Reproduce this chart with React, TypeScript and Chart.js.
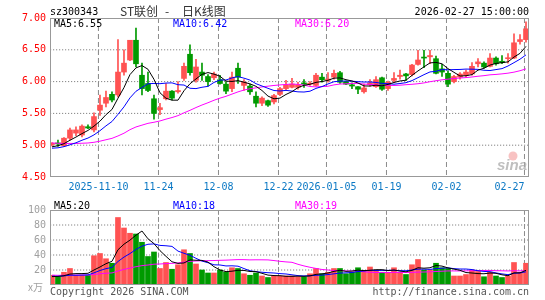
import React, { useEffect, useRef } from 'react';
import { Chart, registerables } from 'chart.js';

Chart.register(...registerables);

// ---- data ----
const opens = [5.01, 5.03, 4.99, 5.11, 5.19, 5.16, 5.29, 5.24, 5.55, 5.66,
  5.80, 5.79, 6.15, 6.34, 6.65, 6.10, 5.97, 5.73, 5.56, 5.73,
  5.85, 5.84, 6.05, 6.43, 6.02, 6.15, 6.08, 6.06, 6.03, 5.96,
  5.89, 6.21, 5.94, 5.93, 5.77, 5.66, 5.70, 5.68, 5.80, 5.89,
  5.91, 5.91, 5.98, 5.96, 5.94, 6.07, 6.02, 6.07, 6.14, 6.00,
  5.95, 5.92, 5.84, 5.95, 5.92, 6.06, 5.89, 6.02, 6.08, 6.12,
  6.11, 6.27, 6.38, 6.39, 6.36, 6.20, 6.13, 6.00, 6.07, 6.10,
  6.12, 6.28, 6.29, 6.24, 6.37, 6.32, 6.36, 6.37, 6.63, 6.66];
const highs = [5.04, 5.08, 5.12, 5.27, 5.29, 5.32, 5.32, 5.51, 5.79, 5.85,
  5.84, 6.66, 6.50, 6.65, 6.84, 6.29, 6.15, 5.79, 5.66, 5.97,
  5.86, 6.00, 6.29, 6.58, 6.35, 6.29, 6.11, 6.15, 6.10, 6.00,
  6.15, 6.29, 6.03, 5.96, 5.84, 5.76, 5.71, 5.80, 5.91, 6.02,
  6.05, 5.99, 6.03, 6.00, 6.13, 6.13, 6.14, 6.18, 6.16, 6.01,
  5.98, 5.92, 5.96, 6.03, 6.08, 6.07, 6.01, 6.14, 6.18, 6.13,
  6.27, 6.49, 6.49, 6.49, 6.40, 6.27, 6.17, 6.10, 6.14, 6.18,
  6.30, 6.36, 6.31, 6.44, 6.39, 6.41, 6.44, 6.75, 6.74, 6.94];
const lows = [4.99, 4.98, 4.98, 5.08, 5.15, 5.13, 5.26, 5.21, 5.47, 5.60,
  5.68, 5.76, 6.10, 6.33, 6.23, 5.79, 5.84, 5.41, 5.48, 5.71,
  5.71, 5.82, 6.02, 6.10, 5.99, 6.02, 5.93, 6.03, 5.96, 5.81,
  5.84, 5.97, 5.86, 5.80, 5.60, 5.62, 5.61, 5.65, 5.78, 5.86,
  5.90, 5.88, 5.91, 5.94, 5.93, 5.99, 5.99, 6.04, 5.97, 5.95,
  5.89, 5.81, 5.82, 5.93, 5.91, 5.86, 5.86, 5.99, 6.04, 6.02,
  6.09, 6.26, 6.22, 6.28, 6.12, 6.08, 5.92, 5.98, 6.04, 6.07,
  6.10, 6.23, 6.21, 6.23, 6.26, 6.28, 6.29, 6.36, 6.59, 6.62];
const closes = [5.03, 5.02, 5.11, 5.24, 5.24, 5.30, 5.27, 5.45, 5.63, 5.75,
  5.71, 6.15, 6.29, 6.65, 6.28, 5.89, 5.86, 5.50, 5.59, 5.85,
  5.74, 5.86, 6.24, 6.14, 6.23, 6.10, 6.00, 6.12, 5.97, 5.85,
  6.07, 6.07, 5.99, 5.84, 5.66, 5.74, 5.63, 5.78, 5.89, 5.95,
  5.96, 5.95, 5.96, 5.97, 6.10, 6.03, 6.04, 6.13, 5.99, 5.96,
  5.93, 5.88, 5.90, 5.98, 6.03, 5.88, 5.99, 6.05, 6.10, 6.09,
  6.26, 6.34, 6.37, 6.41, 6.13, 6.15, 5.96, 6.08, 6.12, 6.15,
  6.24, 6.31, 6.23, 6.37, 6.28, 6.30, 6.37, 6.61, 6.66, 6.83];
const volumes = [13, 11, 17, 22, 13, 13, 13, 39, 42, 35,
  29, 90, 76, 69, 68, 57, 38, 44, 22, 30,
  21, 27, 47, 42, 28, 20, 16, 16, 20, 17,
  23, 22, 15, 13, 16, 12, 10, 12, 12, 12,
  12, 11, 11, 15, 22, 15, 17, 22, 22, 15,
  17, 23, 19, 24, 19, 17, 17, 23, 17, 14,
  27, 34, 20, 20, 29, 23, 22, 12, 12, 14,
  20, 18, 11, 17, 12, 10, 12, 30, 17, 29];
// closes / volumes of the 29 sessions before the window (feed the moving averages)
const priorCloses = [5.18, 5.22, 5.20, 5.25, 5.21, 5.15, 5.12, 5.10, 5.08, 5.05,
  5.02, 5.00, 4.98, 5.00, 5.03, 5.01, 4.99, 4.97, 5.00, 4.98,
  4.96, 4.93, 4.95, 4.92, 4.90, 4.93, 4.95, 4.97, 4.99];
const priorVolumes = [15, 14, 16, 13, 12, 15, 14, 13, 16, 15,
  14, 13, 12, 15, 14, 13, 12, 14, 13, 12,
  11, 13, 12, 14, 11, 10, 12, 11, 10];
const tickIndex = [8, 18, 28, 38, 46, 56, 66, 79];
const tickLabels = ['2025-11-10', '11-24', '12-08', '12-22', '2026-01-05', '01-19', '02-02', '02-27'];
const priceTicks = [4.5, 5.0, 5.5, 6.0, 6.5, 7.0];
const volumeTicks = [0, 20, 40, 60, 80, 100];
const stockCode = 'sz300343';
const stockName = 'ST联创';
const chartKind = '日K线图';
const stamp = '2026-02-27 15:00:00';

// ---- styles ----
const RED = '#ff5252';
const GREEN = '#009a00';
const MONO = '"DejaVu Sans Mono", monospace';
const CJK = '"Noto Sans CJK SC", sans-serif';
const X_MIN = -0.33;
const X_MAX = 79.5;
const TICK_SHIFT = -0.25;
// plot-area sizes in pixels, used to turn dash lengths (px) into scale units
const PLOT_W = 479;
const PRICE_H = 159;
const VOL_H = 84;

function movingAvg(prior: number[], vals: number[], n: number): number[] {
  const all = [...prior, ...vals];
  return vals.map((_, i) => {
    const end = prior.length + i;
    let s = 0;
    for (let k = end - n + 1; k <= end; k++) s += all[k];
    return s / n;
  });
}

const candleColors = closes.map((c, i) => (c >= opens[i] ? RED : GREEN));

function xScale(showLabels: boolean, height: number): any {
  return {
    type: 'linear',
    min: X_MIN,
    max: X_MAX,
    offset: false,
    afterBuildTicks: (s: any) => {
      s.ticks = [{ value: X_MIN }, ...tickIndex.map((v) => ({ value: v + TICK_SHIFT }))];
    },
    afterFit: (s: any) => {
      s.height = height;
    },
    ticks: {
      display: showLabels,
      autoSkip: false,
      maxRotation: 0,
      minRotation: 0,
      align: 'inner',
      padding: 4,
      color: '#0b78c4',
      font: { family: MONO, size: 10 },
      callback: (_v: any, idx: number) => (idx === 0 ? '' : tickLabels[idx - 1]),
    },
    grid: { display: false, drawTicks: false },
    border: { display: false },
  };
}

function yScale(ticks: number[], color: string, fmt: (v: number) => string): any {
  return {
    position: 'left',
    min: ticks[0],
    max: ticks[ticks.length - 1],
    afterBuildTicks: (s: any) => {
      s.ticks = ticks.map((v) => ({ value: v }));
    },
    afterFit: (s: any) => {
      s.width = 50;
    },
    ticks: { color, padding: 4, font: { family: MONO, size: 10 }, callback: (v: any) => fmt(Number(v)) },
    grid: { display: false, drawTicks: false },
    border: { display: false },
  };
}

function lineSet(label: string, vals: number[], color: string): any {
  return {
    type: 'line',
    label,
    data: vals.map((v, i) => ({ x: i, y: v })),
    borderColor: color,
    backgroundColor: color,
    borderWidth: 1,
    pointRadius: 0,
    tension: 0,
    order: 0,
  };
}

// grid lines as broken line series on the tick values: dashed verticals, dotted horizontals
function gridSets(yTicks: number[], plotH: number): any[] {
  const lo = yTicks[0];
  const hi = yTicks[yTicks.length - 1];
  const uy = (hi - lo) / plotH;
  const ux = (X_MAX - X_MIN) / PLOT_W;
  const vPts: any[] = [];
  tickIndex.forEach((t) => {
    const xv = t + TICK_SHIFT;
    for (let y = hi; y > lo; y -= 8 * uy) {
      vPts.push({ x: xv, y }, { x: xv, y: Math.max(lo, y - 5 * uy) }, { x: xv, y: null });
    }
  });
  const hPts: any[] = [];
  yTicks.slice(1, -1).forEach((v) => {
    for (let x = X_MIN; x < X_MAX; x += 3 * ux) {
      hPts.push({ x, y: v }, { x: x + 1.2 * ux, y: v }, { x: x + 1.2 * ux, y: null });
    }
  });
  const base = { type: 'line', borderWidth: 1, pointRadius: 0, tension: 0, spanGaps: false, order: 10 };
  return [
    { ...base, label: 'vgrid', data: vPts, borderColor: '#8e8e8e' },
    { ...base, label: 'hgrid', data: hPts, borderColor: '#858585' },
  ];
}

function framePlugin(id: string, extra: (ctx: CanvasRenderingContext2D, a: any) => void): any {
  return {
    id,
    afterDraw(chart: any) {
      const { ctx, chartArea: a } = chart;
      ctx.save();
      ctx.strokeStyle = '#999999';
      ctx.lineWidth = 1;
      ctx.strokeRect(a.left + 0.5, a.top + 0.5, a.right - a.left - 1, a.bottom - a.top - 1);
      extra(ctx, a);
      ctx.restore();
    },
  };
}

export default function App() {
  const priceRef = useRef<HTMLCanvasElement>(null);
  const volRef = useRef<HTMLCanvasElement>(null);

  useEffect(() => {
    const ma5 = movingAvg(priorCloses, closes, 5);
    const ma10 = movingAvg(priorCloses, closes, 10);
    const ma30 = movingAvg(priorCloses, closes, 30);
    const vma5 = movingAvg(priorVolumes, volumes, 5);
    const vma10 = movingAvg(priorVolumes, volumes, 10);
    const vma30 = movingAvg(priorVolumes, volumes, 30);
    const last = closes.length - 1;

    const priceChart = new Chart(priceRef.current as HTMLCanvasElement, {
      type: 'bar',
      data: {
        datasets: [
          ...gridSets(priceTicks, PRICE_H),
          lineSet('MA5', ma5, '#000000'),
          lineSet('MA10', ma10, '#0000ff'),
          lineSet('MA30', ma30, '#ff00ff'),
          {
            type: 'bar',
            label: 'body',
            data: opens.map((o, i) => ({ x: i, y: [o, closes[i]] })),
            backgroundColor: candleColors,
            barThickness: 5,
            minBarLength: 1,
            grouped: false,
            order: 1,
          } as any,
          {
            type: 'bar',
            label: 'wick',
            data: lows.map((l, i) => ({ x: i, y: [l, highs[i]] })),
            backgroundColor: candleColors,
            barThickness: 1,
            grouped: false,
            order: 2,
          } as any,
        ],
      },
      options: {
        animation: false,
        responsive: false,
        devicePixelRatio: 1,
        layout: { padding: { top: 18, right: 16, left: 0, bottom: 0 }, autoPadding: false } as any,
        plugins: { legend: { display: false }, tooltip: { enabled: false } },
        scales: {
          x: xScale(true, 23),
          y: yScale(priceTicks, '#ff0000', (v) => v.toFixed(2)),
        },
      } as any,
      plugins: [
        framePlugin('priceFrame', (ctx, a) => {
          ctx.textBaseline = 'middle';
          ctx.font = `10px ${MONO}`;
          ctx.fillStyle = '#000000';
          ctx.textAlign = 'left';
          ctx.fillText(stockCode, 50, 12);
          ctx.textAlign = 'right';
          ctx.fillText(stamp, 529, 12);
          ctx.textAlign = 'left';
          ctx.font = `12px ${CJK}`;
          ctx.fillStyle = '#333333';
          ctx.fillText(stockName, 120, 11);
          ctx.fillText('-', 165, 11);
          ctx.fillText(chartKind, 182, 11);
          ctx.font = `10px ${MONO}`;
          ctx.fillStyle = '#000000';
          ctx.fillText(`MA5:${ma5[last].toFixed(2)}`, 54, 24);
          ctx.fillStyle = '#0000ff';
          ctx.fillText(`MA10:${ma10[last].toFixed(2)}`, 173, 24);
          ctx.fillStyle = '#ff00ff';
          ctx.fillText(`MA30:${ma30[last].toFixed(2)}`, 295, 24);
          // sina watermark
          ctx.fillStyle = 'rgba(240,120,120,0.45)';
          ctx.beginPath();
          ctx.arc(513, 156, 4.5, 0, Math.PI * 2);
          ctx.fill();
          ctx.fillStyle = 'rgba(170,170,170,0.75)';
          ctx.font = `italic bold 15px "Liberation Sans", sans-serif`;
          ctx.textBaseline = 'alphabetic';
          ctx.fillText('sina', 497, 170);
        }),
      ],
    });

    const volChart = new Chart(volRef.current as HTMLCanvasElement, {
      type: 'bar',
      data: {
        datasets: [
          ...gridSets(volumeTicks, VOL_H),
          lineSet('MA5', vma5, '#000000'),
          lineSet('MA10', vma10, '#0000ff'),
          lineSet('MA30', vma30, '#ff00ff'),
          {
            type: 'bar',
            label: 'vol',
            data: volumes.map((v, i) => ({ x: i, y: v })),
            backgroundColor: candleColors,
            barThickness: 5,
            grouped: false,
            order: 1,
          } as any,
        ],
      },
      options: {
        animation: false,
        responsive: false,
        devicePixelRatio: 1,
        layout: { padding: { top: 1, right: 16, left: 0, bottom: 0 }, autoPadding: false } as any,
        plugins: { legend: { display: false }, tooltip: { enabled: false } },
        scales: {
          x: xScale(false, 15),
          y: yScale(volumeTicks, '#a0a0a0', (v) => (v === 0 ? '' : String(v))),
        },
      } as any,
      plugins: [
        framePlugin('volFrame', (ctx, a) => {
          ctx.textBaseline = 'middle';
          ctx.textAlign = 'left';
          ctx.font = `10px ${MONO}`;
          ctx.fillStyle = '#000000';
          ctx.fillText(`MA5:${vma5[last].toFixed(0)}`, 54, 6);
          ctx.fillStyle = '#0000ff';
          ctx.fillText(`MA10:${vma10[last].toFixed(0)}`, 173, 6);
          ctx.fillStyle = '#ff00ff';
          ctx.fillText(`MA30:${vma30[last].toFixed(0)}`, 295, 6);
          ctx.fillStyle = '#a0a0a0';
          ctx.font = `10px ${CJK}`;
          ctx.fillText('x万', 28, 87);
          ctx.font = `10px ${MONO}`;
          ctx.fillStyle = '#555555';
          ctx.fillText('Copyright 2026 SINA.COM', 50, 92);
          ctx.textAlign = 'right';
          ctx.fillText('http://finance.sina.com.cn', 529, 92);
        }),
      ],
    });

    return () => {
      priceChart.destroy();
      volChart.destroy();
    };
  }, []);

  return (
    <div style={{ position: 'fixed', left: 0, top: 0, width: 545, height: 300, background: '#ffffff' }}>
      <canvas
        ref={priceRef}
        width={545}
        height={200}
        style={{ position: 'absolute', left: 0, top: 0, width: 545, height: 200 }}
      />
      <canvas
        ref={volRef}
        width={545}
        height={100}
        style={{ position: 'absolute', left: 0, top: 200, width: 545, height: 100 }}
      />
    </div>
  );
}
